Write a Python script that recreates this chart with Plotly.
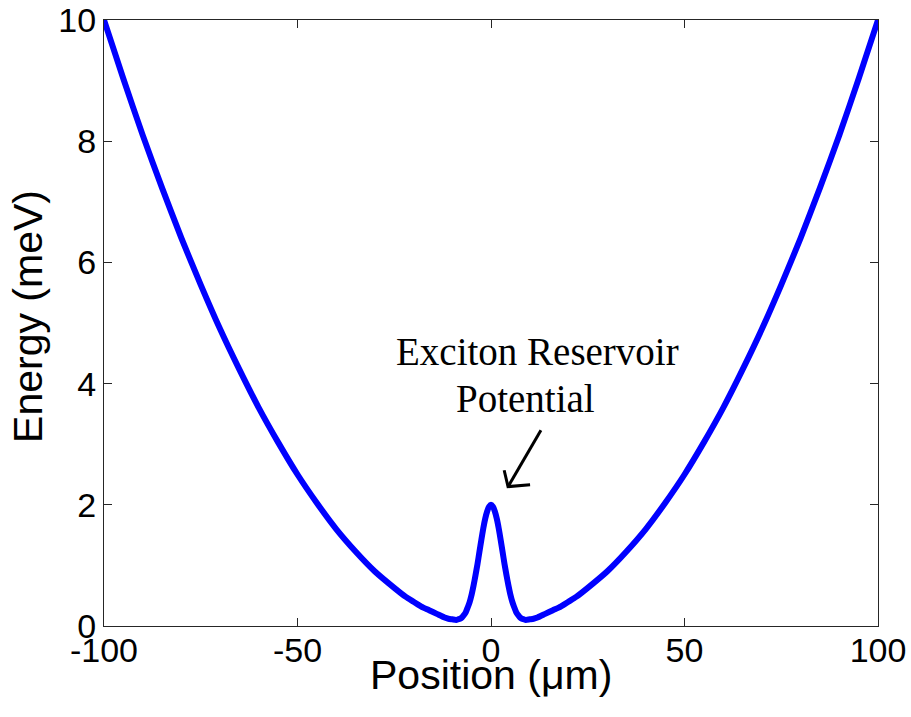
import plotly.graph_objects as go

# Position (um) and energy (meV) of the trap potential
position = [-100, -95, -90, -85, -80, -75, -70, -65, -60, -55, -50, -45, -40,
            -35, -30, -25, -22, -20, -18, -16, -14, -12, -11, -10, -9, -8.5, -8,
            -7.5, -7, -6.5, -6, -5.5, -5, -4.5, -4, -3.5, -3, -2.5, -2, -1.5,
            -1, -0.5, 0, 0.5, 1, 1.5, 2, 2.5, 3, 3.5, 4, 4.5, 5, 5.5, 6, 6.5,
            7, 7.5, 8, 8.5, 9, 10, 11, 12, 14, 16, 18, 20, 22, 25, 30, 35, 40, 45,
            50, 55, 60, 65, 70, 75, 80, 85, 90, 95, 100]
energy = [10.0, 9.03, 8.1, 7.23, 6.4, 5.63, 4.9, 4.23, 3.6, 3.03, 2.5, 2.03,
          1.6, 1.23, 0.9, 0.63, 0.48, 0.40, 0.32, 0.26, 0.20, 0.14, 0.12, 0.11,
          0.10, 0.11, 0.12, 0.14, 0.18, 0.23, 0.31, 0.40, 0.52, 0.67, 0.84,
          1.02, 1.22, 1.42, 1.61, 1.77, 1.89, 1.97, 2.0, 1.97, 1.89, 1.77,
          1.61, 1.42, 1.22, 1.02, 0.84, 0.67, 0.52, 0.40, 0.31, 0.23, 0.18,
          0.14, 0.12, 0.11, 0.10, 0.11, 0.12, 0.14, 0.20, 0.26, 0.32, 0.40,
          0.48, 0.63, 0.9, 1.23, 1.6, 2.03, 2.5, 3.03, 3.6, 4.23, 4.9, 5.63, 6.4,
          7.23, 8.1, 9.03, 10.0]

x_ticks = [-100, -50, 0, 50, 100]
y_ticks = [0, 2, 4, 6, 8, 10]

sans = "Arial, Liberation Sans, sans-serif"
serif = "Times New Roman, Liberation Serif, serif"

fig = go.Figure()
fig.add_trace(go.Scatter(
    x=position, y=energy, mode="lines",
    line=dict(color="#0000ff", width=6, shape="spline", smoothing=0.6),
    showlegend=False, hoverinfo="skip",
))

axis_common = dict(
    showline=True, linecolor="#262626", linewidth=1, mirror="ticks",
    ticks="inside", ticklen=8, tickcolor="#262626", tickwidth=1,
    showgrid=False, zeroline=False, automargin=False,
    tickfont=dict(family=sans, size=34, color="black"),
)

fig.update_xaxes(
    range=[-100, 100], tickvals=x_ticks, ticktext=[str(v) for v in x_ticks],
    ticklabelstandoff=-6, **axis_common,
)
fig.update_yaxes(
    range=[0, 10], tickvals=y_ticks, ticktext=[str(v) for v in y_ticks],
    **axis_common,
)

# Axis titles
fig.add_annotation(xref="paper", yref="paper", x=0.5, y=0, yshift=-49,
                   text="Position (\u03bcm)", showarrow=False,
                   font=dict(family=sans, size=41, color="black"),
                   xanchor="center", yanchor="middle")
fig.add_annotation(xref="paper", yref="paper", x=0, y=0.51, xshift=-76,
                   text="Energy (meV)", showarrow=False, textangle=-90,
                   font=dict(family=sans, size=41, color="black"),
                   xanchor="center", yanchor="middle")

# Label and hand-drawn style arrow pointing at the central peak
fig.add_annotation(x=12.0, y=4.14, text="Exciton Reservoir", showarrow=False,
                   font=dict(family=serif, size=39, color="black"),
                   xanchor="center", yanchor="bottom")
fig.add_annotation(x=8.8, y=3.37, text="Potential", showarrow=False,
                   font=dict(family=serif, size=39, color="black"),
                   xanchor="center", yanchor="bottom")
fig.add_shape(type="line", x0=12.9, y0=3.23, x1=4.4, y1=2.30,
              line=dict(color="black", width=3))
fig.add_shape(type="path", path="M 3.4 2.57 L 4.4 2.30 L 10.1 2.33",
              line=dict(color="black", width=3))

fig.update_layout(
    width=911, height=717,
    margin=dict(l=104, r=33, t=20, b=91),
    paper_bgcolor="white", plot_bgcolor="white",
)

fig.write_html("out.html")
